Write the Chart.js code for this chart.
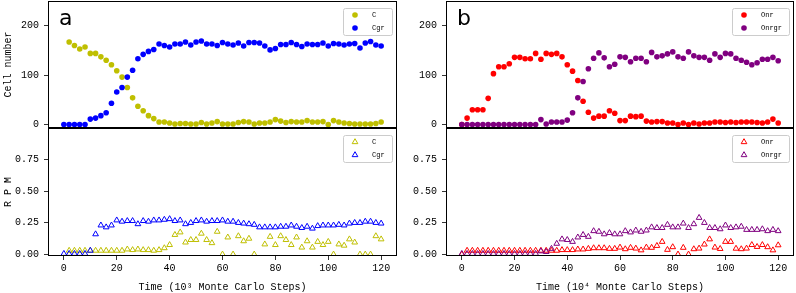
<!DOCTYPE html>
<html>
<head>
<meta charset="utf-8">
<script src="https://cdn.jsdelivr.net/npm/chart.js"></script>
<style>
  html, body { margin: 0; padding: 0; background: #fff; }
  #fig { position: relative; width: 796px; height: 293px; }
  canvas { position: absolute; }
</style>
</head>
<body>
<div id="fig">
  <canvas id="aTop" width="400" height="128" style="left:0;top:0"></canvas>
  <canvas id="aBot" width="400" height="165" style="left:0;top:128px"></canvas>
  <canvas id="bTop" width="398" height="128" style="left:398px;top:0"></canvas>
  <canvas id="bBot" width="398" height="165" style="left:398px;top:128px"></canvas>
</div>
<script>
// sampled every 2 units of time
const steps = [0,2,4,6,8,10,12,14,16,18,20,22,24,26,28,30,32,34,36,38,40,
  42,44,46,48,50,52,54,56,58,60,62,64,66,68,70,72,74,76,78,80,
  82,84,86,88,90,92,94,96,98,100,102,104,106,108,110,112,114,116,118,120];

// panel a, cell numbers
const cCount = [null,167,160,153,157,144,144,137,130,121,109,96,75,54,37,28,18,12,5,5,3,
  1,2,2,1,1,4,1,3,6,1,1,1,4,6,5,1,3,3,5,10,
  7,4,6,5,5,8,5,5,6,0,8,5,3,2,1,1,1,1,2,5];
const cgrCount = [0,0,0,0,0,11,13,18,24,43,66,75,96,110,133,142,148,152,163,160,157,
  163,163,167,161,167,169,163,163,160,166,163,161,165,159,166,166,165,159,151,154,
  162,162,166,162,158,163,162,162,165,159,164,163,161,163,164,155,165,168,161,159];

// panel a, RPM
const cRpm = [null,0.03,0.03,0.03,0.03,0.03,0.03,0.03,0.03,0.03,0.03,0.03,0.04,0.035,0.04,0.035,0.035,0.03,0.035,0.05,0.075,
  0.155,0.175,0.095,0.115,0.115,0.165,0.115,0.09,0.18,0,0.135,0,0.145,0.105,0.125,0,null,0.08,0.14,0.075,
  0.145,0.115,0.075,0.135,0.055,0.105,0.055,0.1,0.075,0.1,0,0.08,0.07,0.12,0.095,0,0,0,0.145,0.12];
const cgrRpm = [0.005,0.005,0.005,0.005,0.005,0.03,0.16,0.23,0.215,0.23,0.27,0.26,0.265,0.265,0.24,0.265,0.26,0.27,0.27,0.275,0.28,
  0.265,0.27,0.24,0.25,0.265,0.27,0.26,0.265,0.265,0.27,0.26,0.26,0.25,0.245,0.24,0.235,0.215,0.215,0.215,0.215,
  0.22,0.22,0.23,0.22,0.21,0.22,0.205,0.225,0.23,0.23,0.23,0.235,0.23,0.245,0.25,0.25,0.26,0.26,0.25,0.245];

// panel b, cell numbers
const onrCount = [0,13,30,30,30,53,103,117,117,123,136,136,133,133,144,132,144,142,144,137,121,
  108,89,47,25,13,17,17,28,23,8,8,17,16,17,7,5,6,6,3,3,
  0,3,0,3,1,3,3,5,5,4,5,4,5,5,5,4,3,5,11,3];
const onrgrCount = [0,0,0,0,0,0,0,0,0,0,0,0,0,0,0,10,1,5,5,5,9,
  24,54,87,113,134,145,135,117,122,137,136,127,134,134,127,146,137,139,143,147,
  137,134,147,139,136,136,130,143,136,144,143,134,130,126,121,125,132,132,136,129];

// panel b, RPM
const onrRpm = [0,0.03,0.03,0.03,0.03,0.03,0.03,0.03,0.03,0.03,0.03,0.03,0.03,0.03,0.03,0.03,0.03,0.03,0.03,0.035,0.035,
  0.035,0.04,0.04,0.045,0.05,0.05,0.05,0.045,0.045,0.055,0.042,0.053,0.047,0.033,0.055,0.053,0.068,0.1,0.037,0.058,
  0,0.053,0,0.042,0.047,0.079,0.12,0.055,0.044,0.1,0.1,0.046,0.042,0.047,0.075,0.06,0.075,0.058,0.033,0.073];
const onrgrRpm = [0.005,0.005,0.005,0.005,0.005,0.005,0.005,0.005,0.005,0.005,0.005,0.005,0.005,0.005,0.005,0.025,0.02,0.045,0.085,0.12,0.115,
  0.1,0.135,0.155,0.14,0.185,0.18,0.16,0.17,0.16,0.16,0.185,0.175,0.19,0.18,0.19,0.215,0.21,0.21,0.235,0.215,
  0.215,0.245,0.21,0.24,0.29,0.25,0.21,0.21,0.2,0.23,0.21,0.215,0.22,0.195,0.195,0.195,0.2,0.185,0.195,0.185];

const countTicks = [0, 100, 200];
const rpmTicks = [0, 0.25, 0.5, 0.75];
const timeTicks = [0, 20, 40, 60, 80, 100, 120];

const FONT = 'Liberation Mono';
const OLIVE = '#bfbf00', BLUE = '#0000ff', RED = '#ff0000', PURPLE = '#800080';

function pts(vals) {
  return steps.map((x, i) => ({ x: x, y: vals[i] }));
}

function dots(label, vals, color, order) {
  return {
    label: label, data: pts(vals), order: order,
    pointStyle: 'circle', pointRadius: 2.8,
    pointBackgroundColor: color, pointBorderColor: color, pointBorderWidth: 0
  };
}

function tris(label, vals, color, order) {
  return {
    label: label, data: pts(vals), order: order,
    pointStyle: 'triangle', pointRadius: 3.3,
    pointBackgroundColor: 'rgba(255,255,255,0)', pointBorderColor: color, pointBorderWidth: 1
  };
}

// frame, panel letter and an inside legend like matplotlib's
const panelDeco = {
  id: 'panelDeco',
  afterDatasetsDraw(chart) {
    const ctx = chart.ctx, a = chart.chartArea;
    ctx.save();
    ctx.strokeStyle = '#000';
    ctx.lineWidth = 1;
    ctx.strokeRect(a.left + 0.5, a.top + 0.5, a.right - a.left - 1, a.bottom - a.top - 1);
    ctx.restore();
  },
  afterDraw(chart, args, opts) {
    const ctx = chart.ctx, a = chart.chartArea;
    ctx.save();
    if (opts.letter) {
      ctx.fillStyle = '#000';
      ctx.font = '22px "DejaVu Sans"';
      ctx.textBaseline = 'alphabetic';
      ctx.fillText(opts.letter, a.left + 11, a.top + 24);
    }
    ctx.font = '7px "' + FONT + '"';
    const sets = chart.data.datasets;
    const tw = Math.max(...sets.map(d => ctx.measureText(d.label).width));
    const w = Math.round(tw + 36), h = 27;
    const x0 = a.right - 5 - w, y0 = a.top + 7;
    ctx.fillStyle = 'rgba(255,255,255,0.85)';
    ctx.strokeStyle = '#cccccc';
    ctx.lineWidth = 1;
    ctx.beginPath();
    ctx.roundRect(x0 + 0.5, y0 + 0.5, w, h, 2);
    ctx.fill();
    ctx.stroke();
    sets.forEach((d, i) => {
      const y = y0 + 7 + i * 13;
      ctx.fillStyle = d.pointBackgroundColor;
      ctx.strokeStyle = d.pointBorderColor;
      ctx.lineWidth = d.pointBorderWidth;
      Chart.helpers.drawPoint(ctx, {
        pointStyle: d.pointStyle, radius: d.pointRadius,
        borderWidth: d.pointBorderWidth, rotation: 0
      }, x0 + 12, y);
      ctx.fillStyle = '#000';
      ctx.textBaseline = 'middle';
      ctx.fillText(d.label, x0 + 29, y);
    });
    ctx.restore();
  }
};

function makeChart(id, datasets, cfg) {
  const isTop = cfg.top;
  return new Chart(document.getElementById(id), {
    type: 'scatter',
    data: { datasets: datasets },
    plugins: [panelDeco],
    options: {
      responsive: false,
      animation: false,
      events: [],
      layout: { autoPadding: false, padding: { top: isTop ? 1 : 0, right: cfg.right, bottom: 0, left: 0 } },
      plugins: {
        legend: { display: false },
        tooltip: { enabled: false },
        panelDeco: { letter: cfg.letter }
      },
      scales: {
        x: {
          type: 'linear',
          min: -6, max: 126,
          display: !isTop,
          afterBuildTicks: s => { s.ticks = timeTicks.map(v => ({ value: v })); },
          afterFit: s => { s.height = isTop ? 0 : 37; s.paddingLeft = 0; s.paddingRight = 0; },
          ticks: { color: '#000', font: { family: FONT, size: 10 }, padding: 2, maxRotation: 0 },
          grid: { drawOnChartArea: false, tickLength: 4, color: '#000', lineWidth: 0.8 },
          border: { display: false },
          title: {
            display: !!cfg.xTitle, text: cfg.xTitle || '', color: '#000',
            font: { family: FONT, size: 10 }, padding: { top: 0, bottom: 0 }
          }
        },
        y: {
          type: 'linear',
          min: isTop ? -7 : -0.013,
          max: isTop ? 250 : 1.0,
          afterBuildTicks: s => { s.ticks = (isTop ? countTicks : rpmTicks).map(v => ({ value: v })); },
          afterFit: s => { s.width = 48; s.paddingTop = 0; s.paddingBottom = 0; },
          ticks: {
            color: '#000', font: { family: FONT, size: 10 }, padding: 5,
            callback: v => isTop ? String(v) : v.toFixed(2)
          },
          grid: { drawOnChartArea: false, tickLength: 4, color: '#000', lineWidth: 0.8 },
          border: { display: false },
          title: {
            display: !!cfg.yTitle, text: cfg.yTitle || '', color: '#000',
            font: { family: FONT, size: 10 }, padding: { top: 2, bottom: 0 }
          }
        }
      }
    }
  });
}

makeChart('aTop', [dots('C', cCount, OLIVE, 1), dots('Cgr', cgrCount, BLUE, 0)],
  { top: true, right: 3, letter: 'a', yTitle: 'Cell number' });
makeChart('aBot', [tris('C', cRpm, OLIVE, 1), tris('Cgr', cgrRpm, BLUE, 0)],
  { top: false, right: 3, yTitle: 'R P M', xTitle: 'Time (10\u00b3 Monte Carlo Steps)' });
makeChart('bTop', [dots('Onr', onrCount, RED, 1), dots('Onrgr', onrgrCount, PURPLE, 0)],
  { top: true, right: 2, letter: 'b' });
makeChart('bBot', [tris('Onr', onrRpm, RED, 1), tris('Onrgr', onrgrRpm, PURPLE, 0)],
  { top: false, right: 2, xTitle: 'Time (10\u2074 Monte Carlo Steps)' });
</script>
</body>
</html>
